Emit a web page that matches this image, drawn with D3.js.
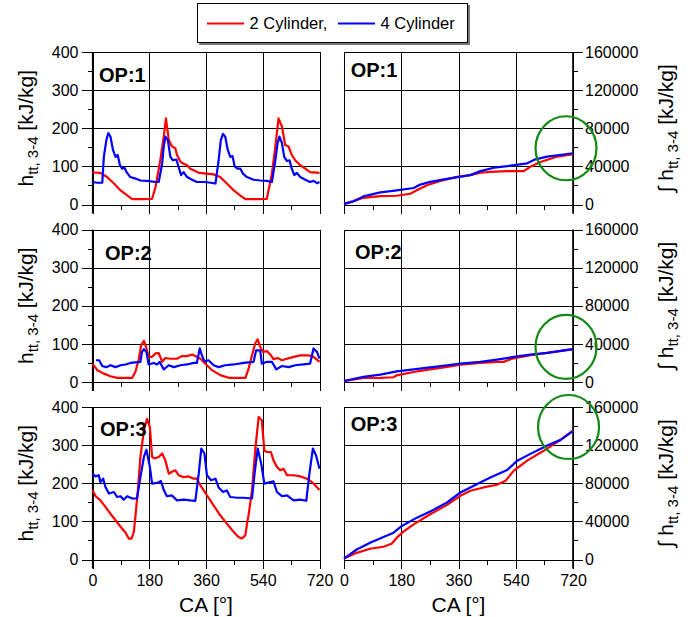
<!DOCTYPE html>
<html><head><meta charset="utf-8">
<script src="https://cdn.jsdelivr.net/npm/d3@7"></script>
<style>
body{margin:0;background:#fff}
svg{display:block}
text{font-family:"Liberation Sans",Arial,Helvetica,sans-serif;fill:#000}
</style>
</head><body><svg id="c" width="699" height="617"></svg>
<script>
// ---------- data ----------
const caTicks = [0, 180, 360, 540, 720];
const caMinor = [90, 270, 450, 630];
const hTicks = [0, 100, 200, 300, 400];
const hMinor = [50, 150, 250, 350];
const intTicks = [0, 40000, 80000, 120000, 160000];
const intMinor = [20000, 60000, 100000, 140000];
const opLabels = ["OP:1", "OP:2", "OP:3"];
const seriesNames = ["2 Cylinder,", "4 Cylinder"];
const seriesColors = ["#ff0000", "#0000ff"];

// h_tt,3-4 [kJ/kg] vs CA [deg]  ([CA, value])
const op1_h_2cyl = [[0,84],[25,83],[46,72],[68,55],[89,37],[110,24],[126,14],[160,14],[189,15],[200,46],[215,116],[226,178],[233,226],[242,169],[252,152],[258,150],[263,147],[268,130],[279,112],[289,107],[300,103],[310,94],[321,90],[337,83],[363,81],[384,79],[405,72],[426,55],[448,37],[468,24],[485,14],[520,14],[553,15],[569,81],[580,152],[590,226],[601,204],[611,156],[622,152],[632,130],[643,116],[659,103],[675,94],[690,85],[720,83]];
const op1_h_4cyl = [[0,59],[15,57],[31,57],[36,125],[44,169],[50,187],[57,178],[65,143],[73,125],[80,130],[87,103],[94,94],[101,97],[108,85],[120,72],[136,68],[152,63],[173,62],[200,59],[210,59],[221,107],[226,152],[231,178],[239,169],[247,125],[255,116],[266,118],[273,99],[281,77],[289,85],[300,72],[316,65],[331,59],[353,59],[375,57],[390,55],[400,116],[407,169],[414,185],[421,178],[429,143],[437,125],[444,127],[451,100],[460,94],[469,94],[477,81],[490,72],[511,65],[532,63],[553,62],[569,59],[580,116],[587,161],[593,178],[601,161],[608,125],[617,114],[625,116],[632,94],[640,77],[648,83],[659,72],[675,65],[690,59],[701,62],[712,56],[720,59]];
const op2_h_2cyl = [[0,48],[15,31],[36,22],[57,15],[78,11],[99,11],[126,11],[136,26],[147,61],[154,96],[163,108],[170,92],[178,66],[189,66],[200,75],[210,76],[221,53],[231,63],[247,61],[268,61],[284,68],[300,68],[316,72],[331,66],[342,61],[358,48],[379,31],[405,18],[432,11],[485,11],[495,35],[506,70],[516,101],[524,112],[532,92],[541,79],[553,81],[566,70],[574,60],[587,63],[601,57],[617,61],[638,66],[659,70],[685,70],[701,66],[720,53]];
const op2_h_4cyl = [[11,57],[21,57],[31,42],[44,39],[57,44],[73,39],[89,44],[105,46],[120,50],[152,53],[157,79],[163,86],[171,79],[178,46],[194,50],[205,46],[213,53],[226,33],[242,44],[258,39],[279,44],[300,46],[321,50],[331,50],[340,88],[347,70],[355,54],[368,57],[384,44],[400,39],[421,44],[448,46],[479,50],[511,53],[519,83],[532,83],[537,48],[553,53],[569,53],[583,33],[601,42],[622,39],[643,44],[669,46],[690,48],[701,88],[712,79],[720,61]];
const op3_h_2cyl = [[0,182],[10,166],[25,155],[41,138],[57,120],[73,103],[89,86],[105,70],[115,55],[124,55],[131,72],[136,112],[144,182],[152,269],[163,339],[173,369],[182,347],[189,269],[196,265],[210,269],[221,278],[231,260],[242,225],[252,230],[263,234],[273,221],[289,216],[305,218],[321,212],[331,212],[342,195],[363,168],[384,142],[405,116],[426,94],[448,72],[463,59],[474,55],[485,64],[490,94],[495,116],[506,182],[516,286],[527,374],[537,365],[545,286],[553,282],[566,282],[574,260],[585,243],[595,234],[606,238],[617,221],[638,221],[659,218],[680,212],[696,203],[720,182]];
const op3_h_4cyl = [[0,225],[10,218],[20,221],[25,203],[34,212],[41,190],[52,173],[68,177],[78,164],[89,166],[99,157],[110,166],[126,160],[141,160],[152,216],[163,269],[171,288],[182,243],[189,199],[205,201],[217,206],[226,182],[236,166],[252,168],[268,155],[289,157],[310,155],[326,154],[337,225],[345,291],[355,278],[363,221],[376,208],[390,212],[400,189],[414,177],[426,181],[437,164],[458,162],[479,162],[506,160],[514,225],[524,291],[535,252],[545,199],[564,203],[574,205],[585,177],[601,166],[617,168],[638,155],[659,157],[678,154],[688,225],[699,291],[709,273],[720,238]];

// integral of h_tt,3-4 [kJ/kg] vs CA
const op1_int_2cyl = [[0,700],[29,3500],[61,7000],[114,8800],[166,9200],[208,11300],[229,14900],[261,20200],[303,24800],[355,29000],[397,30800],[429,33300],[460,34300],[513,35000],[565,35000],[586,39600],[618,44600],[671,50300],[720,52700]];
const op1_int_4cyl = [[0,700],[29,3200],[61,8500],[114,12700],[166,14900],[219,17300],[240,20900],[271,23700],[324,26900],[397,30800],[429,35000],[471,38600],[524,40700],[576,43200],[602,47400],[639,50300],[720,53800]];
const op2_int_2cyl = [[0,1000],[61,4200],[114,4300],[155,5000],[166,7000],[219,10500],[271,13300],[324,15800],[366,18300],[429,20000],[481,21100],[502,21100],[529,24600],[586,28100],[639,30500],[720,34400]];
const op2_int_4cyl = [[0,1000],[61,5300],[114,7700],[166,11200],[219,13300],[271,15400],[324,17600],[366,19300],[429,21100],[481,23500],[534,26300],[586,28800],[639,30500],[720,34400]];
const op3_int_2cyl = [[0,1000],[40,7000],[82,11300],[124,13400],[150,16500],[166,22900],[187,29200],[219,36900],[271,47500],[324,57300],[366,66800],[397,72100],[439,75600],[481,78400],[508,82600],[534,93200],[576,103700],[629,114300],[681,125500],[720,135400]];
const op3_int_4cyl = [[0,1000],[40,10500],[82,17600],[124,23600],[156,28100],[182,35200],[229,43900],[271,50300],[324,59800],[366,70300],[408,77400],[460,86100],[513,93900],[545,103700],[586,110800],[639,119500],[681,125500],[720,134700]];

// highlighted end points (green circles) in the integral panels [CA, value]
const circleCenters = [[698,59000],[698,36800],[706,139000]];

const hSeries = [[op1_h_2cyl, op1_h_4cyl],[op2_h_2cyl, op2_h_4cyl],[op3_h_2cyl, op3_h_4cyl]];
const intSeries = [[op1_int_2cyl, op1_int_4cyl],[op2_int_2cyl, op2_int_4cyl],[op3_int_2cyl, op3_int_4cyl]];

// ---------- layout ----------
const svg = d3.select("#c");
const leftX = [92.5, 319.5], rightX = [344, 573];
const tops = [52, 229.5, 407], panelH = 152.5;
const tickFont = 16;

function styleAxis(g){
  g.select(".domain").remove();
  g.selectAll("line").attr("stroke","#000").attr("stroke-width",1).attr("shape-rendering","crispEdges");
  g.selectAll("text").attr("font-size",tickFont).attr("fill","#000")
    .attr("font-family","'Liberation Sans',Arial,sans-serif");
}

function drawPanel(i, side){
  const xr = side === "left" ? leftX : rightX;
  const top = tops[i], bot = top + panelH;
  const x = d3.scaleLinear().domain([0,720]).range(xr);
  const y = side === "left"
    ? d3.scaleLinear().domain([0,400]).range([bot, top])
    : d3.scaleLinear().domain([0,160000]).range([bot, top]);
  const yT = side === "left" ? hTicks : intTicks;
  const yM = side === "left" ? hMinor : intMinor;
  const w = xr[1]-xr[0];
  const g = svg.append("g");

  // grid
  g.append("g").attr("transform",`translate(0,${top})`)
    .call(d3.axisBottom(x).tickValues(caTicks).tickSize(panelH).tickFormat(""))
    .call(styleAxis);
  g.append("g").attr("transform",`translate(${xr[0]},0)`)
    .call(d3.axisRight(y).tickValues(yT).tickSize(w).tickFormat(""))
    .call(styleAxis);

  // x axis ticks (outward)
  g.append("g").attr("transform",`translate(0,${bot})`)
    .call(d3.axisBottom(x).tickValues(caTicks).tickSize(9).tickPadding(6)
      .tickFormat(i === 2 ? d3.format("d") : ""))
    .call(styleAxis);
  g.append("g").attr("transform",`translate(0,${bot})`)
    .call(d3.axisBottom(x).tickValues(caMinor).tickSize(5).tickFormat(""))
    .call(styleAxis);

  // y axis
  if (side === "left"){
    g.append("g").attr("transform",`translate(${xr[0]},0)`)
      .call(d3.axisLeft(y).tickValues(yT).tickSize(11).tickPadding(3).tickFormat(d3.format("d")))
      .call(styleAxis);
    g.append("g").attr("transform",`translate(${xr[0]},0)`)
      .call(d3.axisLeft(y).tickValues(yM).tickSize(5).tickFormat(""))
      .call(styleAxis);
    g.append("line").attr("x1",xr[0]).attr("x2",xr[0]).attr("y1",top).attr("y2",bot+9)
      .attr("stroke","#000").attr("stroke-width",1.2);
  } else {
    g.append("g").attr("transform",`translate(${xr[1]},0)`)
      .call(d3.axisRight(y).tickValues(yT).tickSize(10).tickPadding(2).tickFormat(d3.format("d")))
      .call(styleAxis);
    g.append("g").attr("transform",`translate(${xr[1]},0)`)
      .call(d3.axisRight(y).tickValues(yM).tickSize(5).tickFormat(""))
      .call(styleAxis);
    g.append("line").attr("x1",xr[1]).attr("x2",xr[1]).attr("y1",top).attr("y2",bot+9)
      .attr("stroke","#000").attr("stroke-width",1.6);
  }

  // lines
  const data = side === "left" ? hSeries[i] : intSeries[i];
  const line = d3.line().x(d => x(d[0])).y(d => y(d[1]));
  data.forEach((s, k) => {
    g.append("path").datum(s).attr("d", line).attr("fill","none")
      .attr("stroke", seriesColors[k]).attr("stroke-width", 2.2)
      .attr("stroke-linejoin","round");
  });

  // OP label
  const off = side === "left" ? [[6.5,29.7],[12.5,30.5],[7.5,28.7]] : [[6.7,24.7],[11,29.5],[6.7,23.7]];
  g.append("text").attr("x", xr[0]+off[i][0]).attr("y", top+off[i][1])
    .attr("font-size",20).attr("font-weight","bold").text(opLabels[i]);

  // green circle
  if (side === "right"){
    const c = circleCenters[i];
    g.append("ellipse").attr("cx", x(c[0])).attr("cy", y(c[1])).attr("rx",30.5).attr("ry",32)
      .attr("fill","none").attr("stroke","#138a13").attr("stroke-width",2.2);
  }

  // y-axis title
  const cy = (top+bot)/2;
  const tx = side === "left" ? 33 : 673;
  const t = g.append("text").attr("transform",`translate(${tx},${cy}) rotate(-90)`)
    .attr("text-anchor","middle").attr("font-size",21);
  t.append("tspan").text(side === "left" ? "h" : "\u222B h");
  t.append("tspan").attr("font-size",15).attr("dy",5).text("tt, 3-4");
  t.append("tspan").attr("dy",-5).text(" [kJ/kg]");

  // x title
  if (i === 2){
    g.append("text").attr("x",(xr[0]+xr[1])/2).attr("y",612).attr("text-anchor","middle")
      .attr("font-size",21).text("CA [\u00B0]");
  }
}

for (let i=0;i<3;i++){ drawPanel(i,"left"); drawPanel(i,"right"); }

// legend
const lg = svg.append("g");
lg.append("rect").attr("x",199).attr("y",5).attr("width",271).attr("height",40).attr("fill","#777");
lg.append("rect").attr("x",197.5).attr("y",3.5).attr("width",270).attr("height",39)
  .attr("fill","#fff").attr("stroke","#000").attr("stroke-width",1);
const legPos = [[207,249.5],[338,380.5]];
seriesNames.forEach((n,k) => {
  lg.append("line").attr("x1",legPos[k][0]).attr("x2",legPos[k][0]+37).attr("y1",23.5).attr("y2",23.5)
    .attr("stroke",seriesColors[k]).attr("stroke-width",2);
  lg.append("text").attr("x",legPos[k][1]).attr("y",29).attr("font-size",16.5).text(n);
});
</script>
</body></html>
